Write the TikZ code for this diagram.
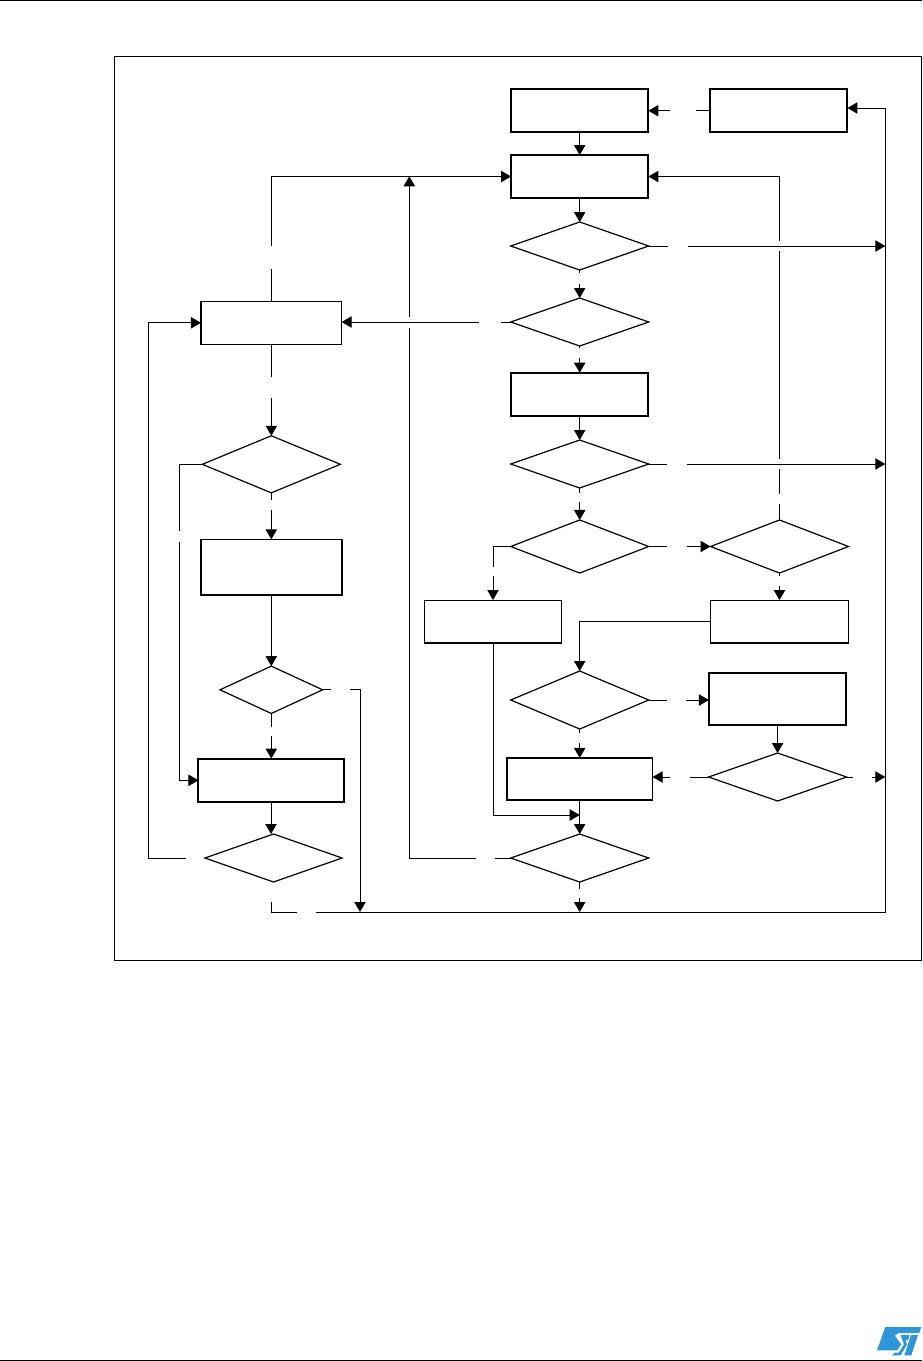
\documentclass[tikz,border=0pt]{standalone}
\usepackage{tikz}
\usetikzlibrary{arrows.meta,shapes.geometric}

\begin{document}
\begin{tikzpicture}[
    x=0.75pt, y=-0.75pt,
    >={Triangle[length=7.5pt,width=8.5pt]},
    box/.style={rectangle, draw, line width=0.8pt, inner sep=0pt, outer sep=0pt, minimum width=103pt, minimum height=32.2pt},
    boldbox/.style={box, line width=1.5pt},
    midbox/.style={box, line width=1.1pt},
    decision/.style={diamond, draw, line width=0.9pt, inner sep=0pt, outer sep=0pt, minimum width=103.5pt, minimum height=36pt},
    gap/.style={rectangle, inner sep=0pt, outer sep=0pt},
    wire/.style={line width=0.75pt},
    flow/.style={wire, ->},
    rule/.style={line width=1pt},
    logo/.style={fill=cyan!70!blue!85!white}
]
\useasboundingbox (0,0) rectangle (922,1361);

% ===== PAGE: rules, frame, logo =====
\draw[rule] (0,0.8) -- (922,0.8);
\draw[rule] (0,1360.2) -- (922,1360.2);
\draw[wire] (114,56.5) rectangle (921,960);
\fill[logo] (885.3,1327) -- (921.3,1327) -- (919.3,1333) -- (898.7,1333) -- (894.7,1335.7) -- (901.3,1344.3) -- (897,1350.3) -- (877,1350.3) -- cycle;
\fill[logo] (900.7,1335) -- (909.7,1335) -- (908,1340.3) -- (905.3,1340.3) -- (907,1344.3) -- (900.7,1355.3) -- (892,1355.3) -- (894.7,1352.7) -- (898.7,1352.7) -- (904,1344.3) -- cycle;
\fill[logo] (911,1335) -- (918,1335) -- (911.3,1355.3) -- (904.3,1355.3) -- cycle;

% ===== MIDDLE COLUMN =====
\node[boldbox] (m_start) at (579.7,110.7) {};
\node[boldbox] (m_main) at (579.7,176.5) {};
\node[decision] (m_d1) at (579.7,246) {};
\node[decision] (m_d2) at (579.7,322) {};
\node[boldbox, minimum height=32.7pt] (m_task) at (579.7,394.5) {};
\node[decision] (m_d3) at (579.7,464) {};
\node[decision, minimum height=39.8pt] (m_d4) at (579.7,546.5) {};
\node[box, minimum width=102.5pt] (m_side) at (493,621.5) {};
\node[decision, minimum height=43.5pt] (m_d5) at (579.7,700) {};
\node[midbox, minimum width=109.3pt, minimum height=31.7pt] (m_end) at (579.7,779) {};
\node[decision] (m_d6) at (579.7,858) {};

% ===== RIGHT COLUMN =====
\node[boldbox] (r_top) at (778.8,110.7) {};
\node[decision, minimum height=39.8pt] (r_d1) at (779.5,546.5) {};
\node[box] (r_mid) at (779.5,621.5) {};
\node[boldbox, minimum height=39pt] (r_task) at (777.6,699) {};
\node[decision] (r_d2) at (777.6,777) {};

% ===== LEFT COLUMN =====
\node[box, minimum width=105.5pt] (l_top) at (271.3,322.8) {};
\node[decision, minimum height=42.8pt] (l_d1) at (271.3,464.3) {};
\node[midbox, minimum width=105.8pt, minimum height=41.8pt] (l_task) at (271.3,567.2) {};
\node[decision, minimum width=77pt, minimum height=35.5pt] (l_d2) at (271.3,689.8) {};
\node[boldbox, minimum width=108.8pt, minimum height=32.5pt] (l_end) at (271,780.3) {};
\node[decision, minimum width=102.8pt] (l_d3) at (273.5,858) {};

% ===== BREAKS in the connectors =====
\foreach \name/\x/\y/\s in {g_m1/579.7/278.5/11, g_m2/579.7/353/10, g_m3/579.7/497.4/9.3, g_m5/579.7/737.9/10.3, g_m6/579.7/893.3/9.3,
    g_m4/493/571.5/9, g_r1/779.5/581/10, g_v1/779.5/245.9/10.3, g_v2/779.5/463.8/10.3, g_v3/779.5/498.7/10,
    g_l1/271.3/257.3/23.3, g_l2/271.3/387.3/21.3, g_l3/271.3/505/10, g_l4/179.3/536.3/11.3, g_l5/271.3/731.5/9,
    g_l6/271.3/892/20, g_x/409.3/322.5/11}
    \node[gap, minimum height=\s*0.75pt] (\name) at (\x,\y) {};
\foreach \name/\x/\y/\s in {g_top/683/110.7/26, g_h1/678/246/20, g_h2/490/322/22, g_h3/676.8/464/20.3, g_h4/677/546.5/20,
    g_h5/676.5/700/19, g_h6/680/777/20, g_h7/862.3/777/19.3, g_h8/485.5/858/19, g_h9/340.3/689.8/19.3,
    g_h10/195.5/858/19, g_bus/306.5/912/19}
    \node[gap, minimum width=\s*0.75pt] (\name) at (\x,\y) {};

% free ends
\coordinate (bus_sw) at (271.3,912);
\coordinate (bus_se) at (885.3,912);
\coordinate (bus_ne) at (885.3,108);
\coordinate (bus_l) at (360,912);
\coordinate (bus_m) at (579.7,912);
\coordinate (main_in) at (409.3,176.3);
\coordinate (loop_l) at (148.3,322.8);
\coordinate (merge) at (579.7,815);

% ===== MIDDLE COLUMN connectors =====
\draw[flow] (m_start) -- (m_main);
\draw[flow] (m_main) -- (m_d1);
\draw[wire] (m_d1.south) -- (g_m1.north);
\draw[flow] (g_m1.south) -- (m_d2.north);
\draw[wire] (m_d2.south) -- (g_m2.north);
\draw[flow] (g_m2.south) -- (m_task.north);
\draw[flow] (m_task) -- (m_d3);
\draw[wire] (m_d3.south) -- (g_m3.north);
\draw[flow] (g_m3.south) -- (m_d4.north);
\draw[wire] (m_d5.south) -- (g_m5.north);
\draw[flow] (g_m5.south) -- (m_end.north);
\draw[flow] (m_end) -- (m_d6);
\draw[wire] (m_d6.south) -- (g_m6.north);
\draw[flow] (g_m6.south) -- (bus_m);
\draw[wire] (m_d4.west) -| (g_m4.north);
\draw[flow] (g_m4.south) -- (m_side.north);
\draw[flow] (m_side.south) |- (merge);
\draw[wire] (m_d2.west) -- (g_h2.east);
\draw[flow] (g_h2.west) -- (l_top.east |- g_h2.west);
\draw[wire] (m_d6.west) -- (g_h8.east);
\draw[wire] (g_h8.west) -| (g_x.south);
\draw[flow] (g_x.north) -- (main_in);

% ===== RIGHT COLUMN connectors =====
\draw[wire] (r_top.west) -- (g_top.east);
\draw[flow] (g_top.west) -- (m_start.east);
\draw[wire] (m_d1.east) -- (g_h1.west);
\draw[flow] (g_h1.east) -- (bus_ne |- g_h1.east);
\draw[wire] (m_d3.east) -- (g_h3.west);
\draw[flow] (g_h3.east) -- (bus_ne |- g_h3.east);
\draw[wire] (m_d4.east) -- (g_h4.west);
\draw[flow] (g_h4.east) -- (r_d1.west);
\draw[wire] (r_d1.north) -- (g_v3.south);
\draw[wire] (g_v3.north) -- (g_v2.south);
\draw[wire] (g_v2.north) -- (g_v1.south);
\draw[flow] (g_v1.north) |- (m_main.east);
\draw[wire] (r_d1.south) -- (g_r1.north);
\draw[flow] (g_r1.south) -- (r_mid.north);
\draw[flow] (r_mid.west) -| (m_d5.north);
\draw[wire] (m_d5.east) -- (g_h5.west);
\draw[flow] (g_h5.east) -- (r_task.west |- g_h5.east);
\draw[flow] (r_task) -- (r_d2);
\draw[wire] (r_d2.west) -- (g_h6.east);
\draw[flow] (g_h6.west) -- (m_end.east |- g_h6.west);
\draw[wire] (r_d2.east) -- (g_h7.west);
\draw[flow] (g_h7.east) -- (bus_ne |- g_h7.east);

% ===== LEFT COLUMN connectors =====
\draw[wire] (l_top.north) -- (g_l1.south);
\draw[flow] (g_l1.north) |- (m_main.west);
\draw[wire] (l_top.south) -- (g_l2.north);
\draw[flow] (g_l2.south) -- (l_d1.north);
\draw[wire] (l_d1.south) -- (g_l3.north);
\draw[flow] (g_l3.south) -- (l_task.north);
\draw[flow] (l_task) -- (l_d2);
\draw[wire] (l_d2.south) -- (g_l5.north);
\draw[flow] (g_l5.south) -- (l_end.north -| g_l5.south);
\draw[flow] (l_end.south) -- (l_end.south |- l_d3.north);
\draw[wire] (l_d1.west) -| (g_l4.north);
\draw[flow] (g_l4.south) |- (l_end.west);
\draw[wire] (l_d3.west) -- (g_h10.east);
\draw[flow] (g_h10.west) -| (loop_l) -- (l_top.west);
\draw[wire] (l_d2.east) -- (g_h9.west);
\draw[flow] (g_h9.east) -| (bus_l);

% ===== BUS along the bottom and right side =====
\draw[wire] (g_l6.south) |- (g_bus.west);
\draw[flow] (g_bus.east) -- (bus_se) -- (bus_ne) -- (r_top.east |- bus_ne);

\end{tikzpicture}
\end{document}
